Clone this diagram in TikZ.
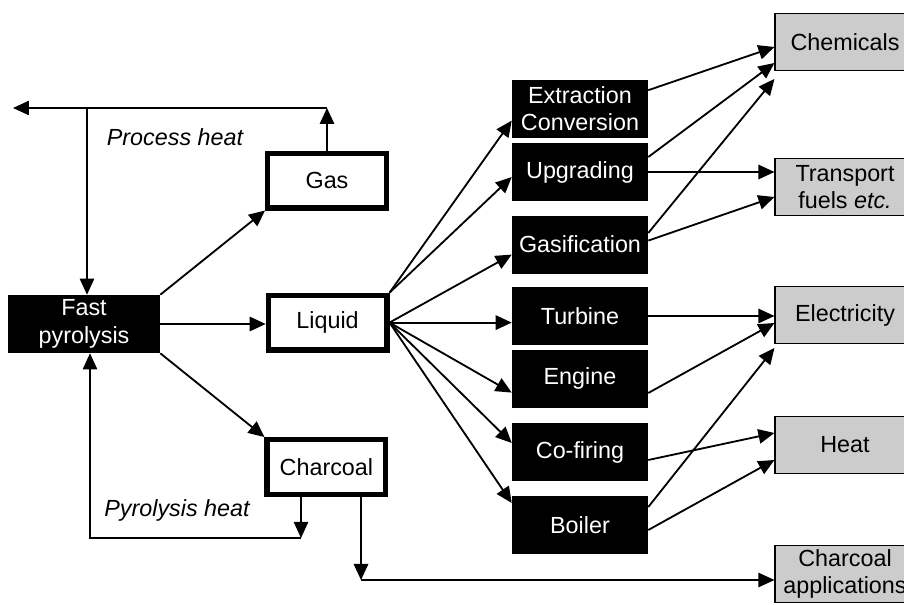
\documentclass[tikz,border=0pt]{standalone}
\usepackage{fontspec}
\setmainfont{Liberation Sans}
\usetikzlibrary{arrows.meta}

\begin{document}
\begin{tikzpicture}[
  font=\fontsize{16.6}{19.5}\selectfont,
  blackbox/.style={fill=black, text=white, minimum width=3.4cm, minimum height=1.45cm, align=center, inner sep=1pt},
  product/.style={draw, line width=3.6pt, fill=white, minimum width=2.97cm, minimum height=1.37cm},
  useblock/.style={draw, line width=0.8pt, fill=gray!40, minimum width=3.5cm, minimum height=1.42cm, align=center, inner sep=1pt},
  flow/.style={line width=1.3pt, -{Triangle[length=0.4cm, width=0.36cm]}},
  heatline/.style={line width=0.8pt, -{Triangle[length=0.4cm, width=0.36cm]}},
  heatlabel/.style={font=\fontsize{16.6}{19.5}\selectfont\itshape}
]
  \useasboundingbox (0, 0) rectangle (22.6, 15.125);

  \node[blackbox, minimum width=3.8cm] (fast) at (2.1, 7.025) {Fast\\pyrolysis};
  \node[product] (gas) at (8.175, 10.61) {Gas};
  \node[product] (liquid) at (8.19, 7.06) {Liquid};
  \node[product] (charcoal) at (8.16, 3.45) {Charcoal};

  \node[blackbox] (extract) at (14.5, 12.41) {Extraction\\Conversion};
  \node[blackbox] (upgrade) at (14.5, 10.825) {Upgrading};
  \node[blackbox] (gasify) at (14.5, 9.01) {Gasification};
  \node[blackbox] (turbine) at (14.5, 7.225) {Turbine};
  \node[blackbox] (engine) at (14.5, 5.66) {Engine};
  \node[blackbox] (cofire) at (14.5, 3.825) {Co-firing};
  \node[blackbox] (boiler) at (14.5, 2.0) {Boiler};

  \node[useblock] (chem) at (21.125, 14.075) {Chemicals};
  \node[useblock] (fuels) at (21.125, 10.45) {Transport\\fuels \textit{etc.}};
  \node[useblock] (power) at (21.125, 7.25) {Electricity};
  \node[useblock] (heat) at (21.125, 4.0) {Heat};
  \node[useblock] (charuse) at (21.125, 0.78) {Charcoal\\applications};

  % pyrolysis products
  \draw[flow] (fast.north east) -- (gas.south west);
  \draw[flow] (fast.east) -- (fast.east -| liquid.west);
  \draw[flow] (fast.south east) -- (charcoal.north west);

  % process heat
  \coordinate (phleft) at (0.325, 12.425);
  \coordinate (phdrop) at (2.175, 12.425);
  \draw[flow] (gas.north) -- (gas.north |- phleft);
  \draw[heatline] (gas.north |- phleft) -- (phleft);
  \draw[heatline] (phdrop) -- (phdrop |- fast.north);
  \node[heatlabel] (proclabel) at (4.375, 11.7) {Process heat};

  % pyrolysis heat
  \coordinate (pyr) at (7.525, 1.675);
  \coordinate (pyrleft) at (2.25, 1.675);
  \draw[heatline] (charcoal.south -| pyr) -- (pyr);
  \draw[heatline] (pyr) -- (pyrleft) -- (pyrleft |- fast.south);
  \node[heatlabel] (pyrlabel) at (4.425, 2.375) {Pyrolysis heat};

  % charcoal use
  \coordinate (cu) at (9.025, 0.625);
  \draw[flow] (charcoal.south -| cu) -- (cu);
  \draw[heatline] (cu) -- (cu -| charuse.west);

  % liquid routes
  \draw[flow] (liquid.north east) -- ([yshift=-0.3cm]extract.west);
  \draw[flow] (liquid.north east) -- ([yshift=-0.125cm]upgrade.west);
  \draw[flow] (liquid.east) -- ([yshift=-0.25cm]gasify.west);
  \draw[flow] (liquid.east) -- (liquid.east -| turbine.west);
  \draw[flow] (liquid.east) -- ([yshift=-0.35cm]engine.west);
  \draw[flow] (liquid.east) -- ([yshift=0.225cm]cofire.west);
  \draw[flow] (liquid.east) -- ([yshift=0.55cm]boiler.west);

  % end uses
  \draw[flow] ([yshift=0.46cm]extract.east) -- ([yshift=-0.125cm]chem.west);
  \draw[flow] ([yshift=0.375cm]upgrade.east) -- ([yshift=-0.525cm]chem.west);
  \draw[flow] (upgrade.east) -- (upgrade.east -| fuels.west);
  \draw[flow] ([yshift=0.29cm]gasify.east) -- ([yshift=-0.2cm]chem.south west);
  \draw[flow] ([yshift=0.1cm]gasify.east) -- ([yshift=-0.25cm]fuels.west);
  \draw[flow] (turbine.east) -- (turbine.east -| power.west);
  \draw[flow] ([yshift=-0.36cm]engine.east) -- ([yshift=-0.2cm]power.west);
  \draw[flow] ([yshift=-0.2cm]cofire.east) -- ([yshift=0.3cm]heat.west);
  \draw[flow] ([yshift=0.45cm]boiler.east) -- ([yshift=-0.1cm]power.south west);
  \draw[flow] ([yshift=-0.125cm]boiler.east) -- ([yshift=-0.375cm]heat.west);
\end{tikzpicture}
\end{document}
